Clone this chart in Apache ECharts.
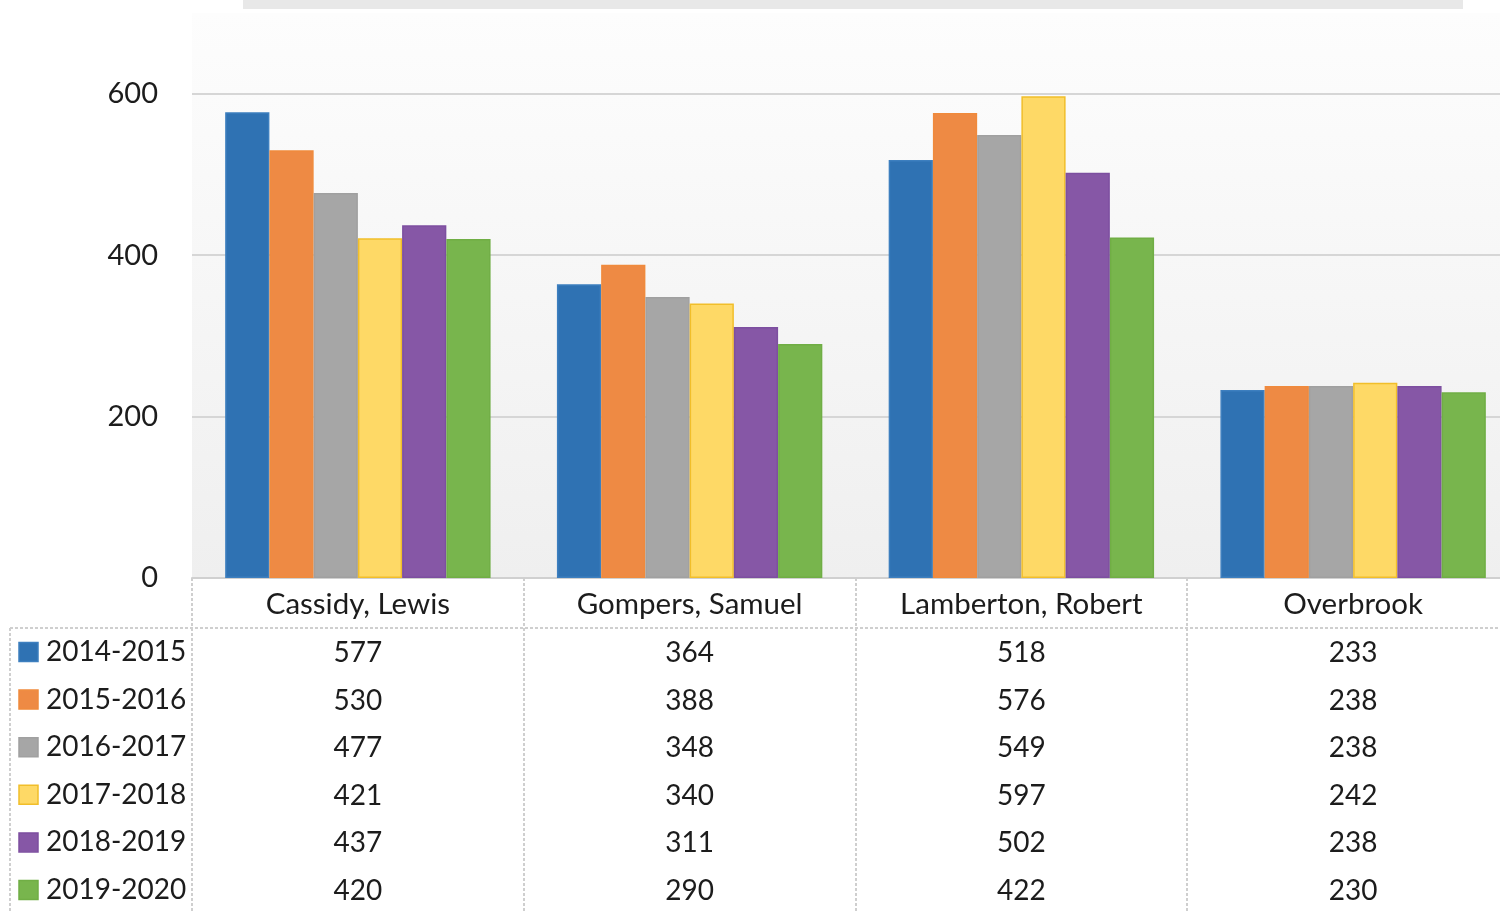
<!DOCTYPE html>
<html>
<head>
<meta charset="utf-8">
<script src="https://cdn.jsdelivr.net/npm/echarts@6/dist/echarts.min.js"></script>
<style>
html,body{margin:0;padding:0;background:#fff;overflow:hidden;width:1500px;height:911px;}
#c{width:1519px;height:911px;}
</style>
</head>
<body>
<div id="c"></div>
<script>
const categories = ['Cassidy, Lewis', 'Gompers, Samuel', 'Lamberton, Robert', 'Overbrook'];
const seriesNames = ['2014-2015', '2015-2016', '2016-2017', '2017-2018', '2018-2019', '2019-2020'];
const s2014 = [577, 364, 518, 233];
const s2015 = [530, 388, 576, 238];
const s2016 = [477, 348, 549, 238];
const s2017 = [421, 340, 597, 242];
const s2018 = [437, 311, 502, 238];
const s2019 = [420, 290, 422, 230];
const seriesValues = [s2014, s2015, s2016, s2017, s2018, s2019];
const tableLabels = seriesValues.map(a => a.map(v => String(v)));

const colors = ['#2f72b3', '#ee8a44', '#a6a6a6', '#fed966', '#8657a6', '#78b54d'];
const borders = ['#3d7fbf', '#f08a3c', '#a0a0a0', '#f1be2a', '#7d4fa0', '#70ae45'];
const FONT = 'Lato, "Open Sans", sans-serif';
const TXT = '#1c1c1c';

const chart = echarts.init(document.getElementById('c'), null, {renderer: 'canvas'});

const option = {
  backgroundColor: '#ffffff',
  animation: false,
  grid: {
    left: 192, right: 0, top: 13, bottom: 333,
    show: true,
    borderWidth: 0,
    backgroundColor: new echarts.graphic.LinearGradient(0, 0, 0, 1, [
      {offset: 0, color: '#fdfdfd'},
      {offset: 1, color: '#efefef'}
    ])
  },
  xAxis: {
    type: 'category',
    data: categories,
    axisLine: {show: true, lineStyle: {color: '#d0d0d0', width: 2}},
    axisTick: {show: false},
    axisLabel: {show: false},
    splitLine: {show: false}
  },
  yAxis: {
    type: 'value',
    min: 0, max: 700, interval: 200,
    axisLine: {show: false},
    axisTick: {show: false},
    axisLabel: {
      margin: 34, fontSize: 29, color: TXT, fontFamily: FONT,
      showMaxLabel: false
    },
    splitLine: {show: true, showMaxLine: false, lineStyle: {color: '#d6d6d6', width: 2}}
  },
  series: seriesNames.map((name, i) => ({
    name: name,
    type: 'bar',
    data: seriesValues[i],
    barGap: '0%',
    barCategoryGap: '20%',
    itemStyle: {color: colors[i], borderColor: borders[i], borderWidth: 1.5}
  }))
};
chart.setOption(option);

function buildTable() {
  const els = [];
  const zeroY = chart.convertToPixel({yAxisIndex: 0}, 0);
  const W = chart.getWidth();
  const left = 192;
  const catW = (W - left) / categories.length;
  const headerBottom = 628;
  const rowH = 47.6;
  const firstRowY = 652;
  const lineColor = '#cfcfcf';
  els.push({type: 'rect', shape: {x: 243, y: 0, width: 1220, height: 9}, style: {fill: '#e8e8e8'}, z: 10});
  els.push({type: 'line', shape: {x1: 10, y1: headerBottom, x2: W, y2: headerBottom},
    style: {stroke: lineColor, lineWidth: 2, lineDash: [3, 2]}, z: 10});
  els.push({type: 'line', shape: {x1: 10, y1: headerBottom, x2: 10, y2: 911},
    style: {stroke: lineColor, lineWidth: 2, lineDash: [3, 2]}, z: 10});
  for (let k = 0; k < categories.length; k++) {
    const x = Math.round(left + k * catW);
    els.push({type: 'line', shape: {x1: x, y1: zeroY, x2: x, y2: 911},
      style: {stroke: lineColor, lineWidth: 2, lineDash: [3, 2]}, z: 10});
  }
  categories.forEach((c) => {
    const cx = chart.convertToPixel({xAxisIndex: 0}, c);
    els.push({type: 'text', x: cx, y: 604, style: {text: c, fill: TXT, fontSize: 29.5, fontFamily: FONT,
      align: 'center', verticalAlign: 'middle'}, z: 11});
  });
  seriesNames.forEach((name, i) => {
    const y = firstRowY + i * rowH;
    els.push({type: 'rect', shape: {x: 19, y: y - 9.5, width: 19, height: 19},
      style: {fill: colors[i], stroke: borders[i], lineWidth: 1.5}, z: 11});
    els.push({type: 'text', x: 46, y: y, style: {text: name, fill: TXT, fontSize: 28, fontFamily: FONT,
      align: 'left', verticalAlign: 'middle'}, z: 11});
    categories.forEach((c, k) => {
      const cx = chart.convertToPixel({xAxisIndex: 0}, c);
      els.push({type: 'text', x: cx, y: y + 1, style: {text: tableLabels[i][k], fill: TXT, fontSize: 28, fontFamily: FONT,
        align: 'center', verticalAlign: 'middle'}, z: 11});
    });
  });
  chart.setOption({graphic: {elements: els}});
}
buildTable();
</script>
</body>
</html>
